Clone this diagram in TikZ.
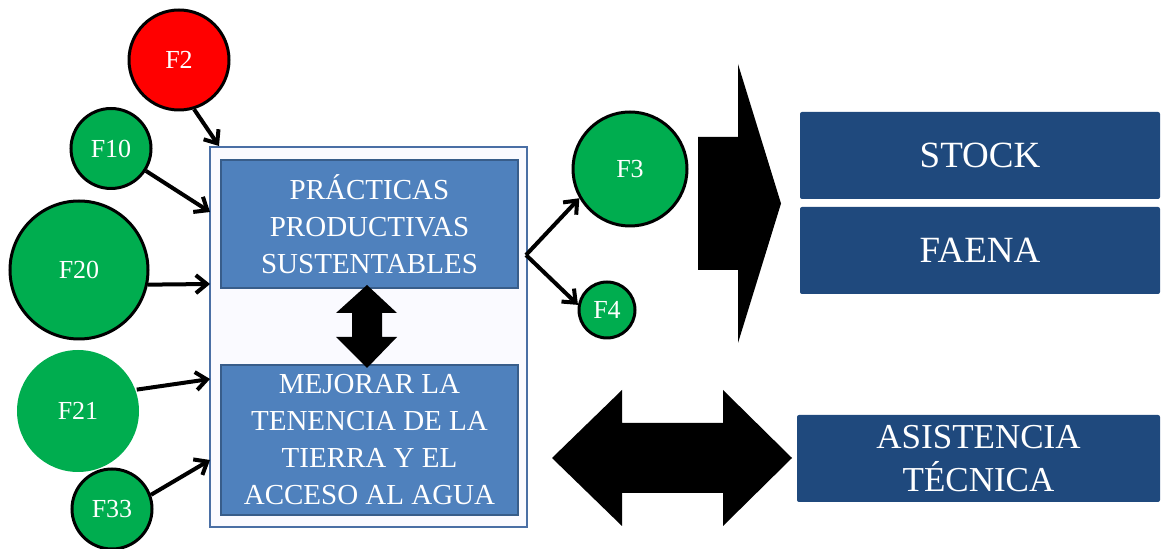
\documentclass[tikz,border=0pt]{standalone}
\usepackage{fontspec}
\setmainfont{Liberation Serif}
\usetikzlibrary{arrows.meta}
\usepackage{xcolor}
\definecolor{factorgreen}{HTML}{00AD4F}
\definecolor{factorred}{HTML}{FF0000}
\definecolor{midblue}{HTML}{4F81BD}
\definecolor{midblueline}{HTML}{385D8A}
\definecolor{frameblue}{HTML}{4A6FA5}
\definecolor{darkblue}{HTML}{1F497D}

\begin{document}
\begin{tikzpicture}[x=0.5pt,y=-0.5pt,
        factor/.style={
            circle,
            draw=black, line width=1.5pt,
            fill=factorgreen,
            text=white,
            inner sep=0pt,
            font=\fontsize{13}{15}\selectfont % Adjust label size here
        },
        goalbox/.style={
            draw=midblueline, line width=1pt,
            fill=midblue,
            text=white,
            minimum width=148.5pt,
            align=center,
            font=\fontsize{14.5}{18.5}\selectfont
        },
        resultbox/.style={
            fill=darkblue,
            text=white,
            rounded corners=1pt,
            minimum width=180pt,
            minimum height=43.5pt,
            align=center
        },
        link/.style={
            line width=2pt,
            -{Straight Barb[length=5.5pt,width=9pt]}
        }
    ]
\useasboundingbox (0,0) rectangle (1161,549);

% Central frame with the two goals
\node[draw=frameblue, line width=1pt, fill=blue!2, minimum width=158.5pt, minimum height=190pt] (frame) at (368.5,337) {};
\node[goalbox, minimum height=64pt] (prac) at (369.5,224) {PRÁCTICAS\\PRODUCTIVAS\\SUSTENTABLES};
\node[goalbox, minimum height=75pt] (tierra) at (369.5,440) {MEJORAR LA\\TENENCIA DE LA\\TIERRA Y EL\\ACCESO AL AGUA};

% Factors
\node[factor, fill=factorred, minimum size=50pt] (F2) at (179,60) {F2};
\node[factor, minimum size=40pt] (F10) at (111,148.5) {F10};
\node[factor, minimum size=69pt] (F20) at (79,270) {F20};
\node[factor, draw=none, minimum size=61pt] (F21) at (78,411) {F21};
\node[factor, minimum size=40pt] (F33) at (112,509) {F33};
\node[factor, minimum size=57pt] (F3) at (630,169) {F3};
\node[factor, minimum size=28pt] (F4) at (607,310) {F4};

% Results
\node[resultbox, font=\fontsize{18.5}{22}\selectfont] (stock) at (980,155.5) {STOCK};
\node[resultbox, font=\fontsize{18.5}{22}\selectfont] (faena) at (980,250.5) {FAENA};
\node[resultbox, minimum width=181.5pt, font=\fontsize{17.5}{21.5}\selectfont] (asist) at (978.5,458.5) {ASISTENCIA\\TÉCNICA};

% Arrow ends on the frame
\coordinate (t2) at ([xshift=5pt]frame.north west);
\coordinate (t10) at (210,212);
\coordinate (t20) at (210,284);
\coordinate (t21) at (210,379);
\coordinate (t33) at (210,460);
\coordinate (out) at (526,255);

\draw[link] (F2.-73) -- (t2);
\draw[link] (F10) -- (t10);
\draw[link] (F20.-12) -- (t20);
\draw[link] (F21.20) -- (t21);
\draw[link] (F33.20) -- (t33);
\draw[link] (out) -- (F3.210);
\draw[link] (out) -- (F4.170);

% Block arrows
\fill[black] (367,285) -- (397,313) -- (382,313) -- (382,337) -- (397,337) -- (367,368)
    -- (336,337) -- (352,337) -- (352,313) -- (336,313) -- cycle;
\fill[black] (698,137) -- (738,137) -- (738,64) -- (781,203.5) -- (738,343) -- (738,270) -- (698,270) -- cycle;
\fill[black] (552,458) -- (622,390) -- (622,423) -- (723,423) -- (723,390) -- (792,458)
    -- (723,526) -- (723,493) -- (622,493) -- (622,526) -- cycle;

\end{tikzpicture}
\end{document}
